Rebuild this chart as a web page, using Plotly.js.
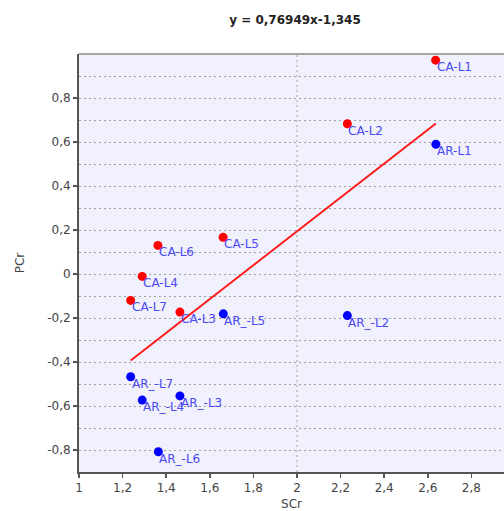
<!DOCTYPE html>
<html>
<head>
<meta charset="utf-8">
<script src="https://cdn.plot.ly/plotly-3.0.1.min.js"></script>
<style>html,body{margin:0;padding:0;background:#fff;}#chart{width:504px;height:511px;}</style>
</head>
<body>
<div id="chart"></div>
<script>
// Data
var caLabels = ['CA-L1','CA-L2','CA-L3','CA-L4','CA-L5','CA-L6','CA-L7'];
var caX = [2.636, 2.231, 1.463, 1.290, 1.661, 1.362, 1.237];
var caY = [0.972, 0.683, -0.173, -0.011, 0.167, 0.130, -0.120];

var arLabels = ['AR-L1','AR_-L2','AR_-L3','AR_-L4','AR_-L5','AR_-L6','AR_-L7'];
var arX = [2.637, 2.231, 1.463, 1.290, 1.662, 1.364, 1.237];
var arY = [0.590, -0.189, -0.554, -0.573, -0.181, -0.808, -0.467];

// Regression y = slope*x + intercept (from chart title)
var slope = 0.76949;
var intercept = -1.345;
var fitX = [1.237, 2.637];
var fitY = fitX.map(function(v){ return slope * v + intercept; });

var xTickVals = [1, 1.2, 1.4, 1.6, 1.8, 2, 2.2, 2.4, 2.6, 2.8];
var xTickText = ['1','1,2','1,4','1,6','1,8','2','2,2','2,4','2,6','2,8'];
var yTickVals = [-0.8, -0.6, -0.4, -0.2, 0, 0.2, 0.4, 0.6, 0.8];
var yTickText = ['-0,8','-0,6','-0,4','-0,2','0','0,2','0,4','0,6','0,8'];

var FONT = 'DejaVu Sans, Verdana, sans-serif';
var labelFont = {family: FONT, size: 12, color: '#4a4af2'};

var traces = [
  {
    x: fitX, y: fitY, mode: 'lines', type: 'scatter',
    line: {color: '#ff1a1a', width: 2}, hoverinfo: 'skip', showlegend: false
  },
  {
    x: caX, y: caY, mode: 'markers', type: 'scatter',
    marker: {color: '#ff0000', size: 9}, showlegend: false, cliponaxis: false
  },
  {
    x: arX, y: arY, mode: 'markers', type: 'scatter',
    marker: {color: '#0000ff', size: 9}, showlegend: false, cliponaxis: false
  }
];

function makeLabels(xs, ys, texts) {
  return texts.map(function(t, i) {
    return {x: xs[i], y: ys[i], xref: 'x', yref: 'y', text: t, showarrow: false,
            xanchor: 'left', yanchor: 'top', xshift: 0, yshift: 1, borderpad: 0,
            font: labelFont};
  });
}

var axisFont = {family: FONT, size: 12, color: '#444'};

var layout = {
  width: 504, height: 511,
  margin: {l: 79, r: 0, t: 54, b: 39},
  paper_bgcolor: '#ffffff',
  plot_bgcolor: '#f1f1fd',
  showlegend: false,
  title: {
    text: '<b>y = 0,76949x-1,345</b>',
    font: {family: FONT, size: 12, color: '#222'},
    xref: 'container', yref: 'container', x: 295/504, y: 1 - 20/511,
    xanchor: 'center', yanchor: 'middle'
  },
  xaxis: {
    range: [1, 1 + 425/218],
    tickmode: 'array', tickvals: xTickVals, ticktext: xTickText,
    showgrid: false, zeroline: false,
    showline: true, linecolor: '#555', linewidth: 2,
    ticks: 'outside', ticklen: 4, tickcolor: '#555', tickwidth: 1.5,
    tickfont: axisFont,
    title: {text: 'SCr', font: axisFont, standoff: 10}
  },
  yaxis: {
    range: [-0.9, 1.0],
    tickmode: 'array', tickvals: yTickVals, ticktext: yTickText,
    showgrid: true, gridcolor: '#a0a0a0', griddash: '2px,3px', gridwidth: 1,
    minor: {dtick: 0.1, showgrid: true, gridcolor: '#a0a0a0', griddash: '2px,3px', gridwidth: 1, ticks: ''},
    zeroline: false,
    showline: true, linecolor: '#555', linewidth: 2,
    ticks: 'outside', ticklen: 4, tickcolor: '#555', tickwidth: 1.5,
    tickfont: axisFont,
    title: {text: 'PCr', font: axisFont, standoff: 20}
  },
  annotations: makeLabels(caX, caY, caLabels).concat(makeLabels(arX, arY, arLabels)),
  shapes: [
    {type: 'line', xref: 'x', yref: 'paper', x0: 2, x1: 2, y0: 0, y1: 1,
     line: {color: '#a0a0a0', width: 1, dash: '2px,3px'}, layer: 'below'},
    {type: 'line', xref: 'paper', yref: 'paper', x0: 0, x1: 1, y0: 1, y1: 1,
     line: {color: '#888', width: 1.5}}
  ]
};

Plotly.newPlot('chart', traces, layout, {displayModeBar: false, staticPlot: true});
</script>
</body>
</html>
